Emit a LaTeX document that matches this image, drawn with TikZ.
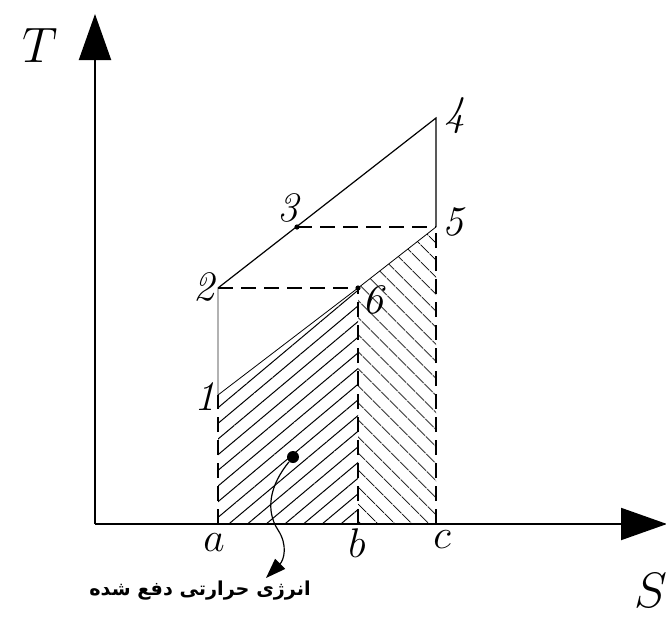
\documentclass[tikz,border=0pt]{standalone}
\usepackage{fontspec}
\newfontfamily\arabicfont[Script=Arabic]{DejaVu Sans}
\TeXXeTstate=1
\usetikzlibrary{arrows.meta,patterns.meta}

\begin{document}
\begin{tikzpicture}[x=0.5pt, y=-0.5pt,
    axis/.style={line width=1pt, -{Triangle[length=23pt,width=16pt]}},
    curve/.style={line width=0.6pt},
    guide/.style={line width=0.7pt, dash pattern=on 7.5pt off 4pt},
    lbl/.style={font=\fontsize{21}{23}\selectfont\itshape, inner sep=0pt},
    dot/.style={circle, fill, inner sep=0pt, minimum size=#1},
    hatchA/.style={pattern={Lines[angle=40,distance=6pt,line width=0.5pt]}},
    hatchB/.style={pattern={Lines[angle=-45,distance=6.5pt,line width=0.5pt]}}
  ]
  \useasboundingbox (0,0) rectangle (666,622);
  % axes
  \coordinate (o) at (95,524);
  \coordinate (tend) at (95,14);
  \coordinate (send) at (667,524);
  % entropy marks and state points
  \coordinate (a) at (218,524);
  \coordinate (b) at (358,524);
  \coordinate (c) at (436,524);
  \coordinate (p1) at (218,395);
  \coordinate (p2) at (218,288);
  \coordinate (p3) at (297,227);
  \coordinate (p4) at (436,118);
  \coordinate (p5) at (436,227);
  \coordinate (p6) at (358,288);

  % rejected heat areas
  \fill[hatchA] (a) -- (p1) -- (p6) -- (b) -- cycle;
  \fill[hatchB] (b) -- (p6) -- (p5) -- (c) -- cycle;

  \draw[axis] (o) -- (tend);
  \draw[axis] (o) -- (send);

  \draw[curve] (p2) -- (p4) -- (p5);
  \draw[curve, gray!60] (p1) -- (p2);
  \draw[curve, line width=0.4pt] (p1) -- (p6) -- (p5);
  \draw[guide] (p2) -- (p6);
  \draw[guide] (p3) -- (p5);
  \draw[guide] (a) -- (p1);
  \draw[guide] (b) -- (p6);
  \draw[guide] (c) -- (p5);
  \node[dot=2.6pt] (d3) at (p3) {};
  \node[dot=2.6pt] (d6) at (p6) {};

  % labels
  \node[lbl, font=\fontsize{43}{45}\selectfont] (tlbl) at (40,45) {$T$};
  \node[lbl, font=\fontsize{43}{45}\selectfont] (slbl) at (651,590) {$S$};
  \node[lbl] (l1) at (205,397) {1};
  \node[lbl] (l2) at (204,287) {2};
  \node[lbl] (l3) at (288,208) {3};
  \node[lbl] (l4) at (455,116) {4};
  \node[lbl] (l5) at (453,222) {5};
  \node[lbl] (l6) at (373,300) {6};
  \node[lbl] (la) at (214,543) {$a$};
  \node[lbl] (lb) at (357,543) {$b$};
  \node[lbl] (lc) at (442,540) {$c$};

  % note
  \node[dot=6pt] (heat) at (293,457) {};
  \node[inner sep=0pt, font=\arabicfont\bfseries\fontsize{9.6}{12}\selectfont] (note) at (200,591)
    {\beginR انرژی حرارتی دفع شده\endR};
  \coordinate (tip) at (266,578);
  \draw[curve, -{Triangle[length=10pt,width=7pt]}] (heat) .. controls (270,485) and (265,510) .. (278,530)
    .. controls (288,545) and (284,560) .. (tip);
\end{tikzpicture}
\end{document}
